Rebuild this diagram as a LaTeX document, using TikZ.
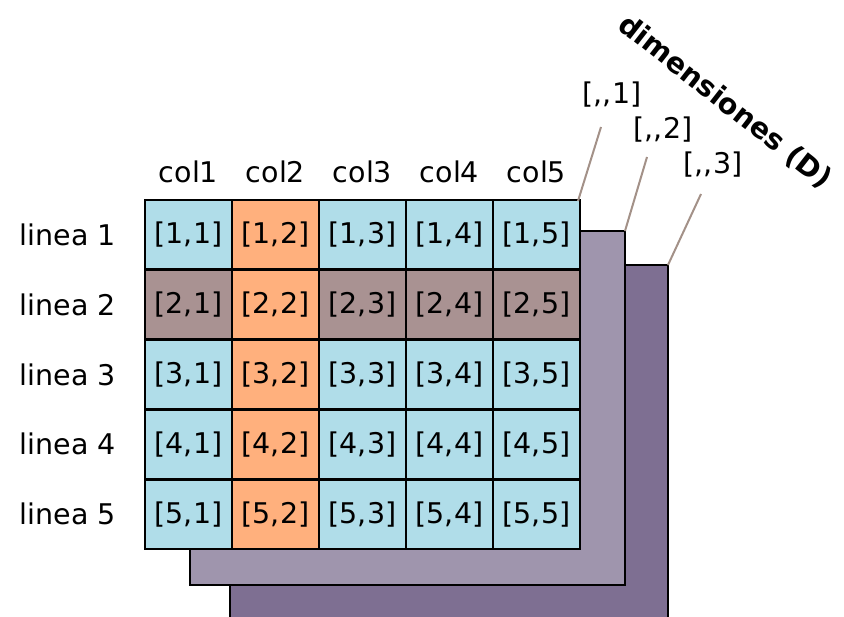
\documentclass[tikz,border=0pt]{standalone}
\usepackage{fontspec}
\setmainfont[Ligatures=NoCommon]{DejaVu Sans}
\usetikzlibrary{calc}
\definecolor{cblue}{HTML}{B0DDE9}
\definecolor{corange}{HTML}{FFB07D}
\definecolor{cmauve}{HTML}{A99292}
\definecolor{clayA}{HTML}{9F95AD}
\definecolor{clayB}{HTML}{7E6F92}
\definecolor{cleader}{HTML}{A39188}
\begin{document}
\begin{tikzpicture}[x=1pt,y=-1pt,
  cell/.style={draw=black,line width=2.8pt,inner sep=0pt,outer sep=0pt,minimum width=87pt,minimum height=69.8pt,font=\fontsize{28.5}{34}\selectfont},
  lab/.style={font=\fontsize{28.5}{34}\selectfont,inner sep=0pt},
  layer/.style={draw=black,line width=2.8pt},
  leader/.style={draw=cleader,line width=2pt}]
\useasboundingbox (0,0) rectangle (844,617);
% back layers
\draw[layer,fill=clayB] (230,265) rectangle (668,630);
\draw[layer,fill=clayA] (190,231) rectangle (625,585);
% grid
\foreach \r in {1,...,5}{
  \foreach \c in {1,...,5}{
    \pgfmathsetmacro{\cx}{145+87*(\c-1)+43.5}
    \pgfmathsetmacro{\cy}{200+69.8*(\r-1)+34.9}
    \ifnum\c=2 \def\fc{corange}\else\ifnum\r=2 \def\fc{cmauve}\else\def\fc{cblue}\fi\fi
    \node[cell,fill=\fc] (m\r\c) at (\cx,\cy) {[\r,\c]};
  }
}
% column labels
\foreach \c in {1,...,5}{
  \node[lab,anchor=base] (col\c) at ($(m1\c.north)+(0,-17)$) {col\c};
}
% row labels
\foreach \r in {1,...,5}{
  \node[lab] (row\r) at (68,{200+69.8*(\r-1)+34.9}) {linea \r};
}
% dimension labels and leaders
\coordinate (k1) at (578,201);
\coordinate (k2) at (625,231);
\coordinate (k3) at (668,265);
\coordinate (e1) at (601,127);
\coordinate (e2) at (647,157);
\coordinate (e3) at (701,194);
\node[lab] (d1) at (612,95) {[{,}{,}1]};
\node[lab] (d2) at (663,130) {[{,}{,}2]};
\node[lab] (d3) at (713,165) {[{,}{,}3]};
\draw[leader] (k1) -- (e1);
\draw[leader] (k2) -- (e2);
\draw[leader] (k3) -- (e3);
\node[font=\fontsize{28.5}{34}\selectfont\bfseries,rotate=-38,inner sep=0pt] (dim) at (725,102) {dimensiones (D)};
\end{tikzpicture}
\end{document}
